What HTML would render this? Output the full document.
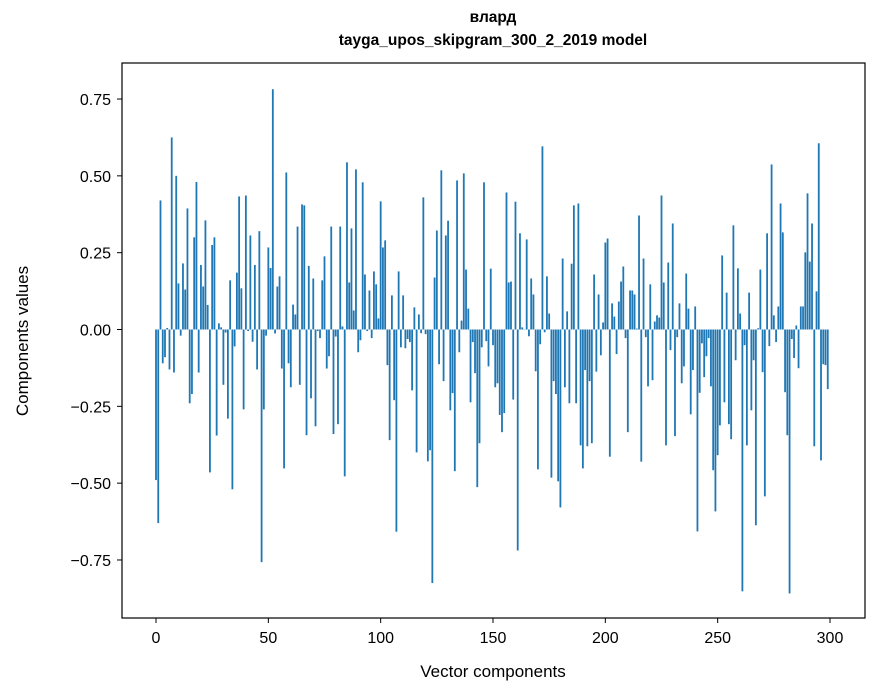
<!DOCTYPE html>
<html><head><meta charset="utf-8"><style>
html,body{margin:0;padding:0;background:#fff;}
svg{display:block;font-family:"Liberation Sans","DejaVu Sans",sans-serif;}
</style></head><body>
<svg id="chart" width="880" height="696" viewBox="0 0 880 696">
<rect x="0" y="0" width="880" height="696" fill="#fff"/>
<text x="493" y="22" text-anchor="middle" font-size="15.5" font-weight="bold">влард</text>
<text x="493" y="45" text-anchor="middle" font-size="15.5" font-weight="bold">tayga_upos_skipgram_300_2_2019 model</text>
<g id="bars"></g>
<rect x="122" y="63" width="743" height="555" fill="none" stroke="#000" stroke-width="1.2"/>
<g id="xticks"></g>
<g id="yticks"></g>
<text x="493" y="677" text-anchor="middle" font-size="17">Vector components</text>
<text x="0" y="0" transform="translate(28,341) rotate(-90)" text-anchor="middle" font-size="17">Components values</text>
</svg>
<script>
const values = [
-0.49,-0.63,0.42,-0.11,-0.09,0.005,-0.13,0.625,-0.14,0.50,
0.15,-0.02,0.215,0.13,0.394,-0.24,-0.21,0.30,0.48,-0.14,
0.21,0.14,0.355,0.08,-0.465,0.275,0.30,-0.345,0.02,0.007,
-0.18,-0.01,-0.29,0.16,-0.52,-0.055,0.185,0.433,0.134,-0.26,
0.436,-0.005,0.306,-0.04,0.21,-0.13,0.32,-0.757,-0.26,-0.02,
0.267,0.2,0.782,-0.013,0.14,0.173,-0.127,-0.452,0.511,-0.11,
-0.188,0.081,0.049,0.335,-0.18,0.407,0.404,-0.344,0.207,-0.224,
0.166,-0.315,-0.005,-0.028,0.16,0.238,-0.127,-0.087,0.335,-0.34,
-0.023,-0.308,0.335,0.01,-0.478,0.544,0.153,0.329,0.062,0.521,
-0.074,-0.035,0.479,0.179,-0.005,0.127,-0.028,0.189,0.147,0.036,
0.417,0.267,0.29,-0.116,-0.36,0.111,-0.23,-0.658,0.189,-0.058,
0.111,-0.061,-0.031,-0.041,-0.198,0.072,-0.4,0.049,-0.012,0.43,
-0.015,-0.429,-0.393,-0.825,0.169,0.322,-0.113,0.518,-0.168,0.306,
0.354,-0.263,-0.207,-0.461,0.485,-0.074,0.029,0.508,0.195,0.068,
-0.237,-0.041,-0.142,-0.513,-0.37,-0.058,0.479,-0.038,-0.12,0.198,
-0.051,-0.188,-0.175,-0.278,-0.334,-0.272,0.446,0.153,0.156,-0.228,
0.416,-0.719,0.313,0.007,0.0,0.293,-0.022,0.166,0.114,-0.136,
-0.455,-0.048,0.596,-0.009,0.173,0.052,-0.482,-0.168,-0.21,-0.494,
-0.579,0.231,-0.188,0.059,-0.24,0.214,0.404,-0.24,0.41,-0.377,
-0.452,-0.132,-0.38,-0.168,-0.37,0.179,-0.137,0.114,-0.084,0.023,
0.283,0.296,-0.414,0.085,0.042,-0.08,0.091,0.156,0.205,-0.028,
-0.334,0.127,0.127,0.114,0.003,0.371,-0.43,0.231,-0.025,-0.185,
0.147,-0.165,0.026,0.046,0.039,0.436,0.153,-0.377,0.218,-0.067,
0.345,-0.347,-0.025,0.085,-0.175,-0.12,0.182,0.068,-0.276,-0.132,
0.075,-0.657,-0.206,-0.045,-0.155,-0.087,-0.028,-0.185,-0.458,-0.592,
-0.409,-0.312,0.241,-0.237,0.12,-0.308,-0.357,0.339,-0.1,0.199,
0.052,-0.852,-0.051,-0.377,0.12,-0.263,-0.1,-0.637,0.004,0.195,
-0.139,-0.543,0.313,-0.054,0.537,0.046,-0.041,0.075,0.41,0.316,
-0.204,-0.344,-0.859,-0.031,-0.093,0.013,-0.126,0.075,0.075,0.251,
0.443,0.221,0.345,-0.38,0.124,0.606,-0.426,-0.113,-0.116,-0.194
];
const xTickValues = [0,50,100,150,200,250,300];
const yTickValues = [-0.75,-0.5,-0.25,0,0.25,0.5,0.75];
const yTickLabels = ["\u22120.75","\u22120.50","\u22120.25","0.00","0.25","0.50","0.75"];

const NS = "http://www.w3.org/2000/svg";
function xScale(v){ return 156 + v * (674/300); }
function yScale(v){ return 329.5 - v * 307.3; }

const barsG = document.getElementById('bars');
const bw = 0.8 * (674/300);
values.forEach(function(v, i){
  const r = document.createElementNS(NS, 'rect');
  const y0 = yScale(0), y1 = yScale(v);
  r.setAttribute('x', xScale(i) - bw/2);
  r.setAttribute('y', Math.min(y0, y1));
  r.setAttribute('width', bw);
  r.setAttribute('height', Math.max(Math.abs(y1 - y0), 0.3));
  r.setAttribute('fill', '#1f77b4');
  
  
  barsG.appendChild(r);
});

const xg = document.getElementById('xticks');
xTickValues.forEach(function(t){
  const x = xScale(t);
  const l = document.createElementNS(NS, 'line');
  l.setAttribute('x1', x); l.setAttribute('x2', x);
  l.setAttribute('y1', 618); l.setAttribute('y2', 623);
  l.setAttribute('stroke', '#000');
  
  
  xg.appendChild(l);
  const tx = document.createElementNS(NS, 'text');
  tx.setAttribute('x', x); tx.setAttribute('y', 643);
  tx.setAttribute('text-anchor', 'middle');
  tx.setAttribute('font-size', '16');
  tx.textContent = String(t);
  
  
  xg.appendChild(tx);
});

const yg = document.getElementById('yticks');
yTickValues.forEach(function(t, i){
  const y = yScale(t);
  const l = document.createElementNS(NS, 'line');
  l.setAttribute('x1', 117); l.setAttribute('x2', 122);
  l.setAttribute('y1', y); l.setAttribute('y2', y);
  l.setAttribute('stroke', '#000');
  
  
  yg.appendChild(l);
  const tx = document.createElementNS(NS, 'text');
  tx.setAttribute('x', 111); tx.setAttribute('y', y + 6);
  tx.setAttribute('text-anchor', 'end');
  tx.setAttribute('font-size', '16');
  tx.textContent = yTickLabels[i];
  
  
  yg.appendChild(tx);
});
</script>
</body></html>
